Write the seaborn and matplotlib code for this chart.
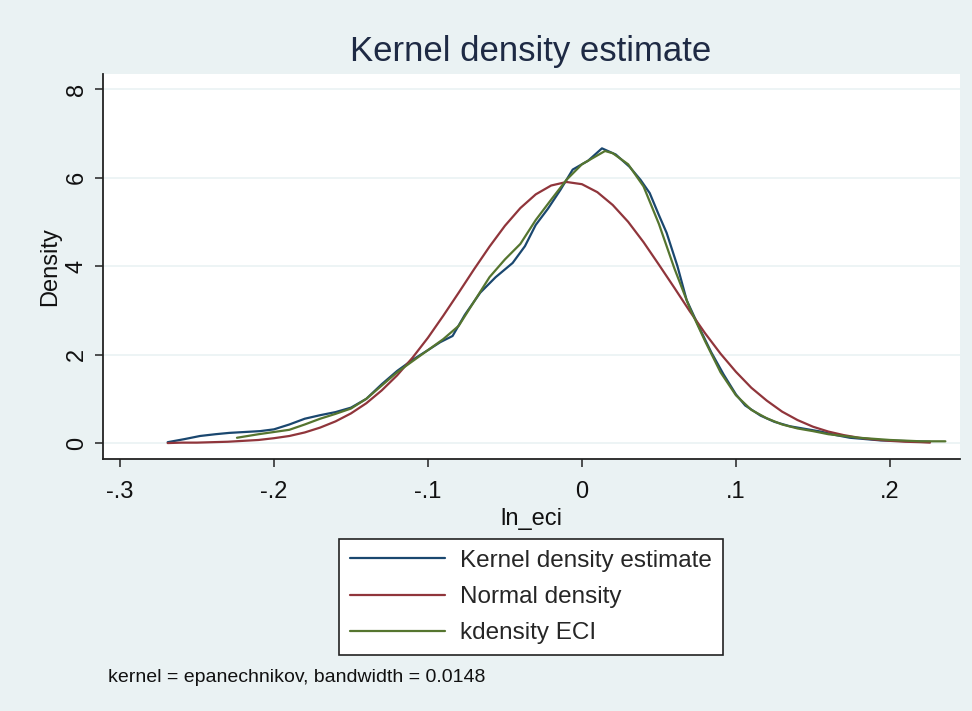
import numpy as np
import pandas as pd
import seaborn as sns
from matplotlib import pyplot as plt

# curves (x = ln_eci, y = density)
kde_x = [-0.269, -0.258, -0.248, -0.238, -0.229, -0.219, -0.209, -0.200, -0.190, -0.180,
         -0.170, -0.160, -0.150, -0.140, -0.130, -0.120, -0.110, -0.100, -0.092, -0.084,
         -0.076, -0.066, -0.056, -0.045, -0.037, -0.030, -0.022, -0.014, -0.006, 0.004,
         0.013, 0.022, 0.031, 0.038, 0.044, 0.050, 0.055, 0.062, 0.068, 0.077,
         0.084, 0.092, 0.100, 0.106, 0.116, 0.125, 0.135, 0.145, 0.155, 0.165,
         0.174, 0.184, 0.194, 0.205, 0.215, 0.226]
kde_y = [0.02, 0.09, 0.16, 0.20, 0.23, 0.25, 0.27, 0.31, 0.42, 0.55,
         0.63, 0.70, 0.80, 1.00, 1.33, 1.63, 1.88, 2.10, 2.28, 2.42,
         2.90, 3.40, 3.75, 4.07, 4.45, 4.93, 5.30, 5.72, 6.18, 6.38,
         6.66, 6.52, 6.24, 5.95, 5.65, 5.15, 4.75, 4.00, 3.23, 2.55,
         2.05, 1.55, 1.10, 0.85, 0.62, 0.48, 0.38, 0.32, 0.26, 0.18,
         0.12, 0.09, 0.06, 0.05, 0.04, 0.03]

norm_x = [-0.269, -0.260, -0.250, -0.240, -0.230, -0.220, -0.210, -0.200, -0.190, -0.180,
          -0.170, -0.160, -0.150, -0.140, -0.130, -0.120, -0.110, -0.100, -0.090, -0.080,
          -0.070, -0.060, -0.050, -0.040, -0.030, -0.020, -0.010, 0.000, 0.010, 0.020,
          0.030, 0.040, 0.050, 0.060, 0.070, 0.080, 0.090, 0.100, 0.110, 0.120,
          0.130, 0.140, 0.150, 0.160, 0.170, 0.180, 0.190, 0.200, 0.210, 0.220, 0.226]
norm_y = [0.00, 0.01, 0.01, 0.02, 0.03, 0.05, 0.07, 0.11, 0.16, 0.24,
          0.35, 0.49, 0.67, 0.90, 1.19, 1.53, 1.93, 2.38, 2.88, 3.40,
          3.93, 4.44, 4.91, 5.31, 5.62, 5.82, 5.90, 5.85, 5.67, 5.38,
          5.00, 4.54, 4.03, 3.51, 2.98, 2.48, 2.02, 1.61, 1.25, 0.96,
          0.71, 0.52, 0.37, 0.26, 0.18, 0.12, 0.08, 0.05, 0.03, 0.02, 0.01]

eci_x = [-0.224, -0.210, -0.200, -0.190, -0.180, -0.170, -0.160, -0.150, -0.140, -0.130,
         -0.120, -0.110, -0.100, -0.090, -0.080, -0.070, -0.060, -0.050, -0.040, -0.030,
         -0.020, -0.010, 0.000, 0.010, 0.015, 0.020, 0.030, 0.040, 0.050, 0.060,
         0.070, 0.080, 0.090, 0.100, 0.110, 0.120, 0.130, 0.140, 0.150, 0.160,
         0.180, 0.200, 0.220, 0.236]
eci_y = [0.12, 0.20, 0.25, 0.30, 0.42, 0.55, 0.66, 0.78, 1.00, 1.30,
         1.60, 1.85, 2.10, 2.35, 2.65, 3.20, 3.75, 4.15, 4.50, 5.04,
         5.50, 5.95, 6.30, 6.50, 6.60, 6.55, 6.30, 5.80, 4.95, 3.95,
         3.05, 2.30, 1.60, 1.08, 0.75, 0.56, 0.42, 0.33, 0.27, 0.20,
         0.12, 0.07, 0.04, 0.04]

labels = ["Kernel density estimate", "Normal density", "kdensity ECI"]
colors = ["#1a476f", "#90353b", "#55752f"]

bg = "#eaf2f3"
sns.set_style("white")
plt.rcParams["font.family"] = ["Liberation Sans", "DejaVu Sans"]

fig = plt.figure(figsize=(9.72, 7.11), dpi=100, facecolor=bg)
ax = fig.add_axes([103 / 972, 1 - 459 / 711, 857 / 972, 385 / 711])
ax.set_facecolor("white")

for xs, ys, lab, col in zip([kde_x, norm_x, eci_x], [kde_y, norm_y, eci_y], labels, colors):
    df = pd.DataFrame({"x": xs, "y": ys})
    sns.lineplot(data=df, x="x", y="y", ax=ax, color=col, linewidth=1.6,
                 label=lab, sort=False, estimator=None)

ax.set_xlim(-0.311, 0.2455)
ax.set_ylim(-0.36, 8.34)
ax.set_xticks([-0.3, -0.2, -0.1, 0, 0.1, 0.2])
ax.set_xticklabels(["-.3", "-.2", "-.1", "0", ".1", ".2"])
ax.set_yticks([0, 2, 4, 6, 8])
ax.set_yticklabels(["0", "2", "4", "6", "8"], rotation=90, va="center")
ax.grid(axis="y", color=bg, linewidth=1.2)
ax.grid(axis="x", visible=False)
for s in ["top", "right"]:
    ax.spines[s].set_visible(False)
for s in ["left", "bottom"]:
    ax.spines[s].set_color("#222222")
    ax.spines[s].set_linewidth(1.3)
ax.tick_params(axis="both", direction="out", length=6, width=1.1, color="#222222",
               labelsize=17, labelcolor="#111111", pad=5,
               left=True, bottom=True)
ax.tick_params(axis="x", pad=10)

ax.set_xlabel("ln_eci", fontsize=17, color="#111111")
ax.set_ylabel("Density", fontsize=17, color="#111111")
ax.yaxis.set_label_coords(-0.049, 0.5)
ax.xaxis.set_label_coords(0.5, -0.128)

fig.text(531 / 972, 1 - 51 / 711, "Kernel density estimate", ha="center", va="center",
         fontsize=25, color="#1e2a44")

ax.get_legend().remove()
handles, labs = ax.get_legend_handles_labels()
leg = fig.legend(handles, labs, loc="center", bbox_to_anchor=(531 / 972, 1 - 597 / 711),
                 fontsize=17.5, frameon=True, fancybox=False, edgecolor="#222222",
                 facecolor="white", framealpha=1, handlelength=3.9, handletextpad=0.6,
                 borderpad=0.45, labelspacing=0.58, borderaxespad=0)
leg.get_frame().set_linewidth(1.2)

fig.text(108 / 972, 1 - 677 / 711, "kernel = epanechnikov, bandwidth = 0.0148",
         ha="left", va="center", fontsize=14, color="#111111")

plt.savefig("out.png", dpi=100, facecolor=bg)
